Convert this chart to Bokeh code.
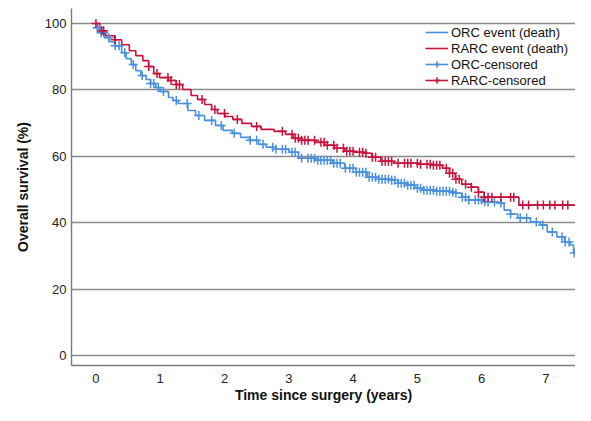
import numpy as np
from bokeh.plotting import figure
from bokeh.models import Range1d, Legend, LegendItem, FixedTicker
from bokeh.embed import file_html
from bokeh.resources import INLINE

# ORC Kaplan-Meier (time in years, survival %)
orc_t = [0, 0.02, 0.08, 0.14, 0.21, 0.29, 0.40, 0.47, 0.55, 0.62, 0.70, 0.78, 0.85, 0.93, 1.00,
         1.13, 1.20, 1.28, 1.43, 1.55, 1.69, 1.86, 1.98, 2.12, 2.25, 2.39, 2.53, 2.65, 2.80, 3.00,
         3.15, 3.41, 3.68, 3.87, 4.05, 4.22, 4.40, 4.58, 4.70, 4.83, 4.96, 5.08, 5.28, 5.51, 5.59,
         5.69, 5.80, 6.04, 6.26, 6.35, 6.45, 6.56, 6.76, 6.91, 7.02, 7.17, 7.29, 7.38, 7.43]
orc_s = [100, 98.7, 97.2, 95.7, 94.5, 93.3, 91.2, 89.4, 87.6, 85.8, 84.3, 83.1, 81.9, 80.7, 79.5,
         77.7, 76.8, 75.9, 73.8, 72.3, 70.8, 69.3, 67.8, 66.9, 65.7, 64.8, 63.6, 62.7, 62.1, 61.2,
         59.4, 58.8, 57.9, 56.4, 55.2, 53.7, 53.1, 52.8, 51.9, 51.3, 50.4, 49.8, 49.5, 49.2, 48.9,
         47.7, 46.8, 46.2, 45.9, 43.8, 42.6, 41.4, 40.2, 39.3, 37.2, 35.7, 34.2, 33.3, 30.9]
orc_end = 7.46

# RARC Kaplan-Meier
rarc_t = [0, 0.06, 0.15, 0.29, 0.40, 0.52, 0.62, 0.73, 0.82, 0.90, 0.99, 1.13, 1.25, 1.35, 1.48,
          1.58, 1.69, 1.80, 1.89, 2.01, 2.13, 2.27, 2.42, 2.57, 2.77, 2.95, 3.07, 3.20, 3.41, 3.56,
          3.71, 3.87, 4.02, 4.17, 4.29, 4.43, 4.63, 5.04, 5.24, 5.39, 5.50, 5.59, 5.69, 5.84, 5.95,
          6.04, 6.58]
rarc_s = [100, 97.8, 96.3, 95.1, 93.6, 91.8, 90.3, 88.8, 87.0, 84.9, 83.7, 82.8, 81.6, 80.1, 78.3,
          77.1, 75.6, 74.1, 72.9, 72.0, 71.1, 69.9, 69.0, 68.1, 67.5, 66.6, 65.4, 64.8, 64.2, 63.3,
          62.4, 61.5, 61.2, 60.9, 59.7, 58.5, 57.9, 57.6, 57.3, 56.4, 54.9, 53.1, 51.6, 50.7, 49.2,
          47.7, 45.3]
rarc_end = 7.46

# censoring times
orc_cens = [0.02, 0.05, 0.08, 0.12, 0.2, 0.3, 0.36, 0.45, 0.58, 0.72, 0.85, 0.9, 0.97, 1.05, 1.25,
            1.42, 1.6, 1.8, 1.95, 2.15, 2.4, 2.5, 2.6, 2.75, 2.8, 2.9, 2.95, 3.05, 3.1, 3.2, 3.3,
            3.35, 3.4, 3.45, 3.5, 3.55, 3.6, 3.65, 3.7, 3.75, 3.8, 3.88, 3.95, 4.0, 4.05, 4.1, 4.15,
            4.2, 4.25, 4.3, 4.35, 4.4, 4.45, 4.5, 4.55, 4.6, 4.65, 4.7, 4.75, 4.8, 4.85, 4.9, 4.95,
            5.0, 5.05, 5.1, 5.15, 5.2, 5.25, 5.3, 5.35, 5.4, 5.45, 5.5, 5.55, 5.6, 5.7, 5.75, 5.8,
            5.9, 5.95, 6.0, 6.05, 6.1, 6.2, 6.3, 6.45, 6.6, 6.7, 6.85, 6.95, 7.1, 7.25, 7.3, 7.36, 7.44]
rarc_cens = [0.0, 0.09, 0.12, 0.3, 0.82, 0.95, 1.12, 1.17, 1.25, 1.3, 1.65, 1.85, 2.0, 2.2, 2.5,
             2.9, 3.05, 3.1, 3.15, 3.2, 3.25, 3.3, 3.4, 3.5, 3.55, 3.6, 3.7, 3.75, 3.85, 3.9, 3.95,
             4.0, 4.1, 4.15, 4.2, 4.3, 4.35, 4.45, 4.5, 4.55, 4.6, 4.7, 4.8, 4.85, 4.9, 5.0, 5.05,
             5.15, 5.2, 5.25, 5.3, 5.35, 5.45, 5.5, 5.55, 5.6, 5.65, 5.75, 5.84, 5.95, 6.04, 6.1,
             6.16, 6.3, 6.45, 6.5, 6.64, 6.73, 6.87, 6.96, 7.06, 7.14, 7.26, 7.34]

x_ticks = [0, 1, 2, 3, 4, 5, 6, 7]
y_ticks = [0, 20, 40, 60, 80, 100]

BLUE = "#4a90de"
RED = "#c8143c"
FONT = "Liberation Sans"


def surv_at(times, surv, t):
    idx = np.searchsorted(np.array(times), np.array(t), side="right") - 1
    return list(np.array(surv)[idx])


p = figure(width=575, height=405, output_backend="svg", toolbar_location=None,
           x_range=Range1d(-0.38, 7.46), y_range=Range1d(-3.0, 104.5),
           min_border_left=71, min_border_right=0, min_border_top=8, min_border_bottom=39)
p.outline_line_color = None
p.background_fill_color = "white"

orc_line = p.step(orc_t + [orc_end], orc_s + [orc_s[-1]], mode="after", color=BLUE, line_width=1.6)
rarc_line = p.step(rarc_t + [rarc_end], rarc_s + [rarc_s[-1]], mode="after", color=RED, line_width=1.6)
orc_pts = p.scatter(orc_cens, surv_at(orc_t, orc_s, orc_cens), marker="cross", size=9,
                    line_color=BLUE, line_width=1.5)
rarc_pts = p.scatter(rarc_cens, surv_at(rarc_t, rarc_s, rarc_cens), marker="cross", size=9,
                     line_color=RED, line_width=1.5)

p.xgrid.grid_line_color = None
p.ygrid.grid_line_color = "#8a8a8a"
p.ygrid.grid_line_width = 1.4
p.ygrid.ticker = FixedTicker(ticks=y_ticks)

p.xaxis.ticker = FixedTicker(ticks=x_ticks)
p.yaxis.ticker = FixedTicker(ticks=y_ticks)
for ax in (p.xaxis[0], p.yaxis[0]):
    ax.axis_line_color = "#7a7a7a"
    ax.axis_line_width = 1.4
    ax.major_tick_line_color = None
    ax.minor_tick_line_color = None
    ax.major_tick_in = 0
    ax.major_tick_out = 0
    ax.major_label_text_font = FONT
    ax.major_label_text_font_size = "13px"
    ax.major_label_text_color = "#222222"
    ax.axis_label_text_font = FONT
    ax.axis_label_text_font_size = "14px"
    ax.axis_label_text_font_style = "bold"
    ax.axis_label_text_color = "#111111"

p.xaxis.axis_label = "Time since surgery (years)"
p.yaxis.axis_label = "Overall survival (%)"
p.xaxis.major_label_standoff = 8
p.xaxis.axis_label_standoff = 1
p.yaxis.major_label_standoff = 5
p.yaxis.axis_label_standoff = 11

legend = Legend(items=[
    LegendItem(label="ORC event (death)", renderers=[orc_line]),
    LegendItem(label="RARC event (death)", renderers=[rarc_line]),
    LegendItem(label="ORC-censored", renderers=[orc_line, orc_pts]),
    LegendItem(label="RARC-censored", renderers=[rarc_line, rarc_pts]),
], location=(354, 277))
legend.background_fill_alpha = 0
legend.border_line_color = None
legend.padding = 0
legend.margin = 0
legend.spacing = 0
legend.glyph_width = 23
legend.glyph_height = 16
legend.label_height = 16
legend.label_standoff = 3
legend.label_text_font = FONT
legend.label_text_font_size = "13px"
legend.label_text_color = "#111111"
p.add_layout(legend, "center")

open("out.html", "w").write(file_html(p, INLINE))
